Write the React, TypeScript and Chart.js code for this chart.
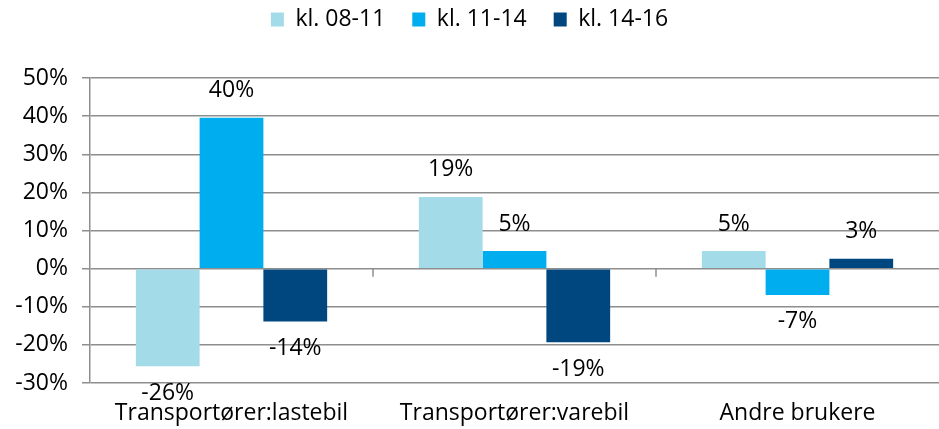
import React, { useEffect, useRef } from 'react';
import { Chart, registerables } from 'chart.js';

Chart.register(...registerables);

const categories = ['Transportører:lastebil', 'Transportører:varebil', 'Andre brukere'];
const seriesLabels = ['kl. 08-11', 'kl. 11-14', 'kl. 14-16'];
const kl0811 = [-25.6, 18.8, 4.6];
const kl1114 = [39.6, 4.6, -6.9];
const kl1416 = [-13.9, -19.3, 2.6];
const seriesColors = ['#A3DCE8', '#00AEEF', '#00467F'];
const yMin = -30;
const yMax = 50;
const yStep = 10;

const GRID = '#8e8e8e';
const FONT = 'Open Sans';
const FS = 23;

const dataLabelPlugin = {
  id: 'dataLabels',
  afterDatasetsDraw(chart: any) {
    const ctx = chart.ctx;
    ctx.save();
    ctx.font = `${FS}px "${FONT}"`;
    ctx.fillStyle = '#000';
    ctx.textAlign = 'center';
    ctx.textBaseline = 'middle';
    chart.data.datasets.forEach((ds: any, di: number) => {
      const meta = chart.getDatasetMeta(di);
      meta.data.forEach((el: any, i: number) => {
        const v = ds.data[i];
        const y = v >= 0 ? el.y - 27 : el.y + 27;
        ctx.fillText(Math.round(v) + '%', el.x, y);
      });
    });
    ctx.restore();
  },
};

const categoryTickPlugin = {
  id: 'categoryTicks',
  afterDatasetsDraw(chart: any) {
    const ctx = chart.ctx;
    const xs = chart.scales.x;
    const ys = chart.scales.y;
    const zero = ys.getPixelForValue(0);
    const n = categories.length;
    const w = (chart.chartArea.right - chart.chartArea.left) / n;
    ctx.save();
    ctx.strokeStyle = GRID;
    ctx.lineWidth = 1.5;
    for (let i = 1; i < n; i++) {
      const x = Math.round(xs.getPixelForValue(i) - w / 2);
      ctx.beginPath();
      ctx.moveTo(x, zero);
      ctx.lineTo(x, zero + 8);
      ctx.stroke();
    }
    ctx.restore();
  },
};

export default function App() {
  const ref = useRef<HTMLCanvasElement>(null);
  useEffect(() => {
    if (!ref.current) return;
    Chart.defaults.font.family = FONT;
    const chart = new Chart(ref.current, {
      type: 'bar',
      data: {
        labels: categories,
        datasets: [kl0811, kl1114, kl1416].map((d, i) => ({
          label: seriesLabels[i],
          data: d,
          backgroundColor: seriesColors[i],
          borderWidth: 0,
          barPercentage: 1,
          categoryPercentage: 0.676,
        })),
      },
      options: {
        animation: false,
        responsive: false,
        maintainAspectRatio: false,
        layout: { padding: { top: -19, left: 0, right: 0, bottom: 0 } },
        plugins: {
          legend: {
            position: 'top',
            labels: {
              font: { size: FS, family: FONT },
              color: '#000',
              boxWidth: 13,
              boxHeight: 14,
              padding: 27,
            },
          },
          subtitle: {
            display: true,
            text: '',
            weight: 500,
            padding: { top: 0, bottom: 25 },
            font: { size: 10 },
          },
          tooltip: { enabled: false },
        },
        scales: {
          x: {
            grid: { display: false },
            border: { display: false },
            ticks: { font: { size: FS, family: FONT }, color: '#000', padding: 9, maxRotation: 0 },
            afterFit: (s: any) => { s.height = 46; },
          },
          y: {
            min: yMin,
            max: yMax,
            ticks: {
              stepSize: yStep,
              font: { size: FS, family: FONT },
              color: '#000',
              padding: 14,
              callback: (v: any) => v + '%',
            },
            grid: { color: GRID, lineWidth: 1.5, tickLength: 8, drawTicks: true },
            border: { display: true, color: GRID, width: 1.5 },
            afterFit: (s: any) => { s.width = 90; },
          },
        },
      },
      plugins: [dataLabelPlugin, categoryTickPlugin],
    });
    return () => chart.destroy();
  }, []);
  return (
    <div style={{ position: 'fixed', left: 0, top: 0, width: 939, height: 429, background: '#fff' }}>
      <canvas ref={ref} width={939} height={429} style={{ width: 939, height: 429 }} />
    </div>
  );
}
